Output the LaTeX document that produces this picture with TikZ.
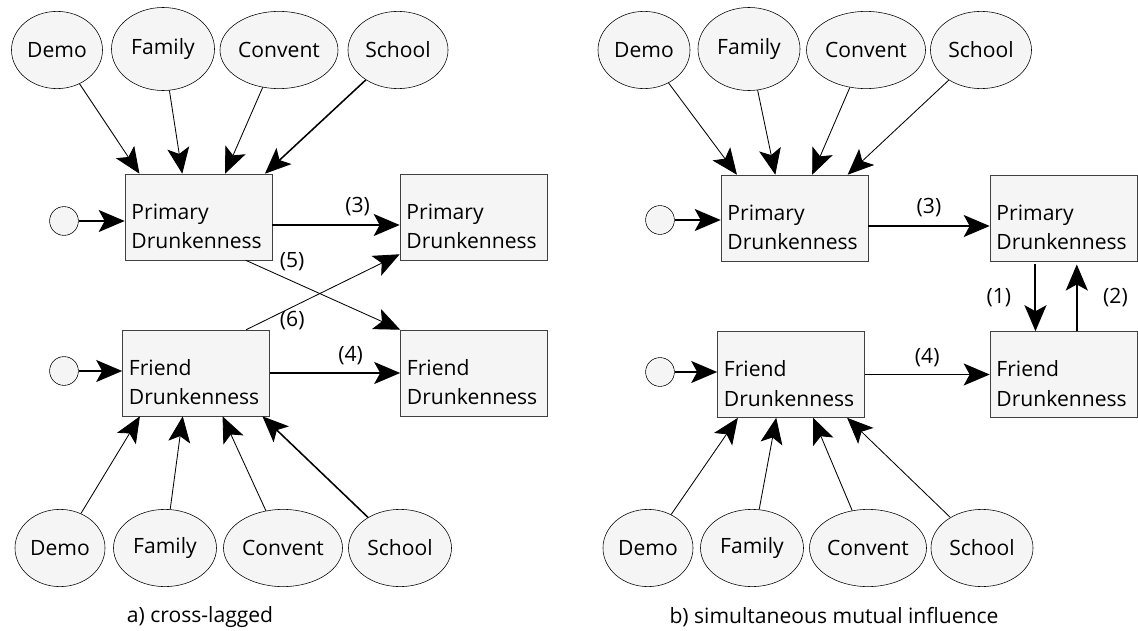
\documentclass[tikz,border=0pt]{standalone}
\usepackage{fontspec}
\setmainfont{Open Sans}
\usetikzlibrary{shapes.geometric,arrows.meta,calc}
\definecolor{nodegray}{HTML}{F5F5F5}
\definecolor{edgegray}{HTML}{404040}
\tikzset{
  latent/.style={ellipse,draw,fill=nodegray,inner sep=0pt,minimum height=1.93cm},
  obs/.style={rectangle,draw=edgegray,fill=nodegray,minimum width=3.675cm,minimum height=2.15cm,
    text width=3.35cm,inner xsep=0.16cm,align=left,execute at begin node={\rule{0pt}{0.85cm}}},
  resid/.style={circle,draw,fill=nodegray,minimum size=0.72cm,inner sep=0pt},
  tip/.style={-{Stealth[length=0.65cm,width=0.55cm,inset=0.15cm]}},
  mainpath/.style={tip,line width=1.4pt},
  cause/.style={tip,line width=0.6pt},
  lbl/.style={inner sep=1pt}
}
\begin{document}
\begin{tikzpicture}[x=0.025cm,y=-0.025cm,font=\fontsize{15}{21}\selectfont]
\useasboundingbox (0,0) rectangle (1138,631);
% a) cross-lagged
\node[latent,minimum width=2.275cm] (demoTa) at (57,50) {Demo};
\node[latent,minimum width=2.575cm,minimum height=2.075cm] (famTa) at (163,49) {Family};
\node[latent,minimum width=2.95cm] (convTa) at (279,50) {Convent};
\node[latent,minimum width=2.5cm] (schoolTa) at (398,50) {School};
\node[obs] (primA) at (198.5,217) {Primary\\Drunkenness};
\node[obs] (primA2) at (473.5,217) {Primary\\Drunkenness};
\node[obs] (friendA) at (196,373) {Friend\\Drunkenness};
\node[obs] (friendA2) at (474,373) {Friend\\Drunkenness};
\node[resid] (residPa) at (64,221) {};
\node[resid] (residFa) at (64,371) {};
\node[latent,minimum width=2.25cm] (demoBa) at (60,548) {Demo};
\node[latent,minimum width=2.575cm] (famBa) at (165,548) {Family};
\node[latent,minimum width=2.975cm] (convBa) at (283,548) {Convent};
\node[latent,minimum width=2.575cm] (schoolBa) at (400,548) {School};
\node (capA) at (200,617) {a) cross-lagged};

\draw[cause] (demoTa) -- ($(primA.north west)!.10!(primA.north east)$);
\draw[cause] (famTa) -- ($(primA.north west)!.39!(primA.north east)$);
\draw[cause] (convTa) -- ($(primA.north west)!.68!(primA.north east)$);
\draw[cause,line width=1.1pt] (schoolTa) -- ($(primA.north west)!.95!(primA.north east)$);
\draw[cause] (demoBa) -- ($(friendA.south west)!.12!(friendA.south east)$);
\draw[cause] (famBa) -- ($(friendA.south west)!.41!(friendA.south east)$);
\draw[cause] (convBa) -- ($(friendA.south west)!.68!(friendA.south east)$);
\draw[cause,line width=1.1pt] (schoolBa) -- ($(friendA.south west)!.95!(friendA.south east)$);
\draw[mainpath] (residPa) -- (residPa -| primA.west);
\draw[mainpath] (residFa) -- (residFa -| friendA.west);
\draw[mainpath] ([yshift=-0.2cm]primA.east) -- ([yshift=-0.2cm]primA2.west)
  node[lbl,pos=0.67,above=5pt] {(3)};
\draw[mainpath] (friendA.east) -- (friendA2.west)
  node[lbl,pos=0.62,above=4pt] {(4)};
\draw[cause] ($(primA.south west)!.82!(primA.south east)$) -- (friendA2.north west)
  node[lbl,pos=0.3,above,yshift=0.2cm] {(5)};
\draw[cause] ($(friendA.north west)!.84!(friendA.north east)$) -- ([yshift=0.15cm]primA2.south west)
  node[lbl,pos=0.3,below,yshift=-0.05cm] {(6)};

% b) simultaneous mutual influence
\node[latent,minimum width=2.3cm] (demoTb) at (644,50) {Demo};
\node[latent,minimum width=2.55cm,minimum height=2.075cm] (famTb) at (749,49) {Family};
\node[latent,minimum width=2.975cm] (convTb) at (866,50) {Convent};
\node[latent,minimum width=2.525cm] (schoolTb) at (981,50) {School};
\node[obs] (primB) at (794.5,218) {Primary\\Drunkenness};
\node[obs] (primB2) at (1063.5,218) {Primary\\Drunkenness};
\node[obs] (friendB) at (791,374.5) {Friend\\Drunkenness};
\node[obs] (friendB2) at (1063.5,374.5) {Friend\\Drunkenness};
\node[resid] (residPb) at (660,220) {};
\node[resid] (residFb) at (660,372) {};
\node[latent,minimum width=2.25cm] (demoBb) at (648,548) {Demo};
\node[latent,minimum width=2.575cm] (famBb) at (752,548) {Family};
\node[latent,minimum width=2.925cm] (convBb) at (868,548) {Convent};
\node[latent,minimum width=2.55cm] (schoolBb) at (982,548) {School};
\node (capB) at (834,617) {b) simultaneous mutual influence};

\draw[cause] (demoTb) -- ($(primB.north west)!.11!(primB.north east)$);
\draw[cause] (famTb) -- ($(primB.north west)!.37!(primB.north east)$);
\draw[cause] (convTb) -- ($(primB.north west)!.62!(primB.north east)$);
\draw[cause] (schoolTb) -- ($(primB.north west)!.86!(primB.north east)$);
\draw[cause] (demoBb) -- ($(friendB.south west)!.14!(friendB.south east)$);
\draw[cause] (famBb) -- ($(friendB.south west)!.40!(friendB.south east)$);
\draw[cause] (convBb) -- ($(friendB.south west)!.65!(friendB.south east)$);
\draw[cause] (schoolBb) -- ($(friendB.south west)!.88!(friendB.south east)$);
\draw[mainpath] (residPb) -- (residPb -| primB.west);
\draw[mainpath] (residFb) -- (residFb -| friendB.west);
\draw[mainpath] ([yshift=-0.2cm]primB.east) -- ([yshift=-0.2cm]primB2.west)
  node[lbl,midway,above=5pt] {(3)};
\draw[mainpath] (friendB.east) -- (friendB2.west)
  node[lbl,midway,above=4pt] {(4)};
\draw[mainpath] ([yshift=-0.08cm]$(primB2.south west)!.31!(primB2.south east)$) -- ($(friendB2.north west)!.31!(friendB2.north east)$)
  node[lbl,midway,left=0.55cm] {(1)};
\draw[mainpath] ($(friendB2.north west)!.59!(friendB2.north east)$) -- ([yshift=-0.08cm]$(primB2.south west)!.59!(primB2.south east)$)
  node[lbl,midway,right=0.6cm] {(2)};
\end{tikzpicture}
\end{document}
